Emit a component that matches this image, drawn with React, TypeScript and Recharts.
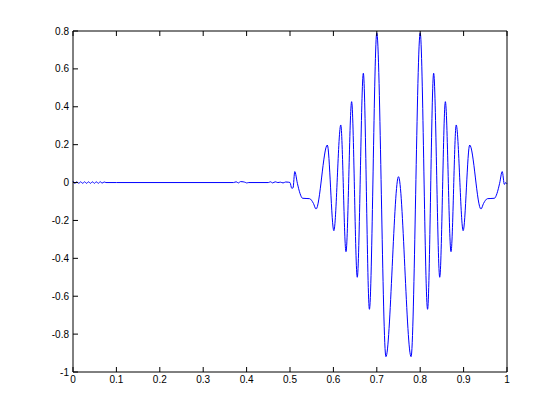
import { LineChart, Line, XAxis, YAxis } from "recharts";

// sample positions (x) and signal values
const times = [
  0, 0.004, 0.009, 0.013, 0.018, 0.022, 0.027, 0.031, 0.036, 0.04, 0.045,
  0.049, 0.054, 0.058, 0.063, 0.067, 0.072, 0.076, 0.1, 0.37, 0.376, 0.381,
  0.386, 0.392, 0.398, 0.4, 0.405, 0.45, 0.455, 0.46, 0.466, 0.472, 0.478,
  0.484, 0.49, 0.496, 0.5, 0.504, 0.507, 0.511, 0.517, 0.523, 0.529, 0.545,
  0.554, 0.56, 0.586, 0.601, 0.617, 0.629, 0.642, 0.655, 0.669, 0.683, 0.7,
  0.721, 0.75, 0.779, 0.8, 0.817, 0.831, 0.845, 0.858, 0.871, 0.883, 0.899,
  0.914, 0.94, 0.946, 0.955, 0.971, 0.977, 0.983, 0.989, 0.994, 0.997, 1,
];
const amplitude = [
  0.008, -0.004, 0.004, -0.004, 0.004, -0.004, 0.004, -0.004, 0.004, -0.004,
  0.004, -0.004, 0.004, -0.004, 0.004, -0.003, 0.003, 0, 0, 0, 0.004, -0.002,
  0.005, 0.004, 0, -0.002, 0, 0, 0.004, -0.002, 0.004, 0, 0.002, -0.002,
  0.003, 0.002, 0, -0.03, -0.028, 0.058, -0.004, -0.057, -0.083, -0.085,
  -0.11, -0.14, 0.198, -0.254, 0.304, -0.365, 0.427, -0.5, 0.577, -0.669,
  0.79, -0.919, 0.031, -0.919, 0.79, -0.669, 0.577, -0.5, 0.427, -0.365,
  0.304, -0.254, 0.198, -0.14, -0.11, -0.085, -0.083, -0.057, -0.004, 0.058,
  -0.01, 0, -0.008,
];
const xTicks = [0, 0.1, 0.2, 0.3, 0.4, 0.5, 0.6, 0.7, 0.8, 0.9, 1];
const yTicks = [-1, -0.8, -0.6, -0.4, -0.2, 0, 0.2, 0.4, 0.6, 0.8];

const data = times.map((t, i) => ({ t, v: amplitude[i] }));

const tickStyle = { fontSize: 10, fill: "#000", fontFamily: "Liberation Sans, Arial, sans-serif" };
const axisLine = { stroke: "#000", strokeWidth: 1 };

export default function App() {
  return (
    <div style={{ position: "absolute", left: 0, top: 0, width: 560, height: 419, background: "#fff" }}>
      <LineChart width={560} height={419} data={data} margin={{ top: 30, right: 52, bottom: 27, left: 33 }}>
        <XAxis
          dataKey="t"
          type="number"
          domain={[0, 1]}
          ticks={xTicks}
          interval={0}
          height={20}
          tick={tickStyle}
          tickSize={-5}
          tickMargin={9}
          axisLine={axisLine}
          tickLine={axisLine}
        />
        <XAxis
          xAxisId="top"
          dataKey="t"
          type="number"
          orientation="top"
          domain={[0, 1]}
          ticks={xTicks}
          interval={0}
          height={1}
          tickSize={-5}
          tickFormatter={() => ""}
          axisLine={axisLine}
          tickLine={axisLine}
        />
        <YAxis
          type="number"
          domain={[-1, 0.8]}
          ticks={yTicks}
          interval={0}
          width={40}
          tick={tickStyle}
          tickSize={-5}
          tickMargin={9}
          axisLine={axisLine}
          tickLine={axisLine}
        />
        <YAxis
          yAxisId="right"
          type="number"
          orientation="right"
          domain={[-1, 0.8]}
          ticks={yTicks}
          interval={0}
          width={1}
          tickSize={-5}
          tickFormatter={() => ""}
          axisLine={axisLine}
          tickLine={axisLine}
        />
        <Line
          dataKey="v"
          type="monotone"
          stroke="#0000ff"
          strokeWidth={1}
          dot={false}
          isAnimationActive={false}
        />
      </LineChart>
    </div>
  );
}
